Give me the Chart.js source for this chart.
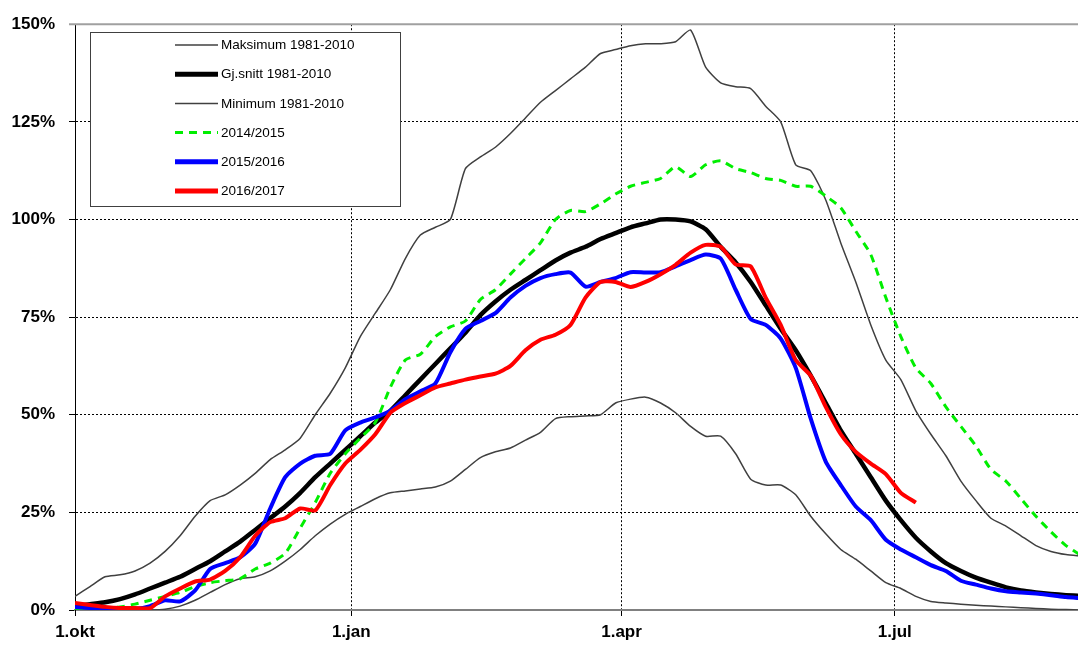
<!DOCTYPE html>
<html>
<head>
<meta charset="utf-8">
<script src="https://cdn.jsdelivr.net/npm/chart.js@4.4.0/dist/chart.umd.min.js"></script>
<style>
    body { margin: 0; background: #fff; }
    #wrap { width: 1078px; height: 648px; }
</style>
</head>
<body>
<div id="wrap"><canvas id="chart" width="1078" height="648"></canvas></div>
<script>
// days after 1. oktober, one point every 5 days
const days = [0, 5, 10, 15, 20, 25, 30, 35, 40, 45, 50, 55, 60, 65, 70, 75, 80, 85, 90, 95,
    100, 105, 110, 115, 120, 125, 130, 135, 140, 145, 150, 155, 160, 165, 170, 175, 180, 185, 190, 195,
    200, 205, 210, 215, 220, 225, 230, 235, 240, 245, 250, 255, 260, 265, 270, 275, 280, 285, 290, 295,
    300, 305, 310, 315, 320, 325, 330, 335];

const tickDays = [0, 92, 182, 273];
const tickLabels = ['1.okt', '1.jan', '1.apr', '1.jul'];
const yTicks = [0, 25, 50, 75, 100, 125, 150];

const maksimum = [3.5, 6, 8.5, 9, 10, 12, 15, 19, 24, 28, 29.5, 32, 35, 38.5, 41, 44, 50, 55.5, 62, 70,
    76, 82, 90, 96, 98, 100, 113, 116, 118.5, 122, 126, 130, 133, 136, 139, 142.5, 143.5, 144.5, 145, 145,
    145.5, 148.5, 139, 135, 134, 133.5, 129, 125, 114, 112.5, 105, 94, 84, 73, 64, 59, 51, 45, 39.5, 33,
    28, 23.5, 21.5, 19, 16.5, 15, 14.2, 13.8];

const snitt = [1, 1.5, 2, 2.8, 4, 5.5, 7, 8.5, 10.5, 12.5, 15, 17.5, 20.5, 23.5, 26.5, 30, 34, 37.5, 41, 44.5,
    48, 51, 55, 59, 63, 67, 71, 75.5, 79, 82, 84.5, 87, 89.5, 91.5, 93, 95, 96.5, 98, 99, 100,
    100, 99.5, 97.5, 93, 89, 84, 78, 72, 66.5, 60, 53, 46, 40, 34, 28, 23, 18.5, 15, 12, 10,
    8.3, 7, 5.8, 5, 4.5, 4.1, 3.8, 3.6];

const minimum = [0.3, 0.3, 0.2, 0, 0, 0, 0.2, 1, 2.5, 4.5, 6.5, 8, 8.5, 10, 12.5, 15.5, 19, 22, 24.5, 26.5,
    28.5, 30, 30.5, 31, 31.5, 33, 36, 39, 40.5, 41.5, 43.5, 45.5, 49, 49.5, 49.7, 50, 53, 54, 54.5, 53,
    50.5, 47, 44.5, 44.5, 40, 33.5, 32, 32, 29.5, 24, 19.5, 15.5, 13, 10, 7, 5.5, 3.5, 2.2, 1.8, 1.5,
    1.2, 1, 0.8, 0.6, 0.4, 0.2, 0.1, 0];

const s2014 = [0.3, 0.3, 0.5, 0.8, 1.5, 2.5, 3.5, 4.5, 6, 7, 7.5, 8, 10.5, 12, 14.5, 21, 27.5, 35, 40, 44,
    48, 57, 64, 65.5, 70, 72.5, 74, 79.5, 82, 86, 90, 94, 100, 102.3, 102, 104, 106.5, 108.5, 109.5, 110.5,
    113.5, 111, 114, 115, 113, 112, 110.5, 110, 108.5, 108.5, 106, 103, 97, 91, 80, 70, 62, 58, 52, 47,
    42, 36, 33, 28.5, 24, 20, 16.5, 14];

const s2015 = [0.8, 0.5, 0.3, 0.3, 0.3, 1, 2.5, 2.2, 5, 10.5, 12, 13.5, 17, 26, 34, 37.5, 39.5, 40, 46, 48,
    49.3, 51, 54, 56, 58, 66, 72, 74, 76, 80, 83, 85, 86, 86.4, 82.8, 84, 85, 86.5, 86.4, 86.5,
    88, 89.6, 91, 90, 82, 74.5, 73, 69.5, 62, 49, 38, 32, 26.5, 23, 18, 15.5, 13.5, 11.5, 10, 7.5,
    6.5, 5.5, 4.8, 4.5, 4.2, 3.8, 3.3, 3];

const s2016 = [1.8, 1.3, 0.8, 0.5, 0.5, 0.5, 3.5, 5.5, 7.3, 7.8, 10, 13.5, 19, 22.5, 23.5, 26, 25.5, 32, 37.5, 41,
    45, 50.5, 53, 55, 57, 58, 59, 59.8, 60.5, 62.5, 66.5, 69.2, 70.5, 73, 80, 84, 84, 82.7, 84, 86,
    88.4, 91.5, 93.5, 93, 88.5, 88, 80, 73, 64, 60, 52, 45, 40.5, 37.5, 34.8, 30, 27.5, null, null, null,
    null, null, null, null, null, null, null, null];

const font = "'Liberation Sans', Arial, sans-serif";

function points(vals) {
    return days.map((d, i) => ({x: d, y: vals[i]})).filter(p => p.y !== null);
}

function line(label, vals, color, width, order, dash) {
    return {
        label: label,
        data: points(vals),
        borderColor: color,
        backgroundColor: color,
        borderWidth: width,
        borderDash: dash || [],
        pointRadius: 0,
        tension: 0.2,
        fill: false,
        order: order
    };
}

// legend box inside the plot, like the original
const legendBox = {
    id: 'legendBox',
    afterDraw(chart) {
        const ctx = chart.ctx;
        ctx.save();
        ctx.fillStyle = '#fff';
        ctx.fillRect(90.5, 32.5, 310, 174);
        ctx.strokeStyle = '#404040';
        ctx.lineWidth = 1;
        ctx.strokeRect(90.5, 32.5, 310, 174);
        ctx.font = '13.5px ' + font;
        ctx.textBaseline = 'middle';
        chart.data.datasets.forEach((ds, i) => {
            const y = 45 + i * 29.2;
            ctx.beginPath();
            ctx.strokeStyle = ds.borderColor;
            ctx.lineWidth = ds.legendWidth;
            ctx.setLineDash(ds.borderDash);
            ctx.moveTo(175, y);
            ctx.lineTo(218, y);
            ctx.stroke();
            ctx.setLineDash([]);
            ctx.fillStyle = '#000';
            ctx.fillText(ds.label, 221, y + 0.5);
        });
        ctx.restore();
    },
    beforeDatasetsDraw(chart) {
        // grey frame line at 150%
        const ctx = chart.ctx;
        const a = chart.chartArea;
        ctx.save();
        ctx.strokeStyle = '#a0a0a0';
        ctx.lineWidth = 2;
        ctx.beginPath();
        ctx.moveTo(a.left - 6, a.top);
        ctx.lineTo(a.right, a.top);
        ctx.stroke();
        ctx.restore();
    }
};

const datasets = [
    line('Maksimum 1981-2010', maksimum, '#404040', 1.5, 5),
    line('Gj.snitt 1981-2010', snitt, '#000000', 4.5, 3),
    line('Minimum 1981-2010', minimum, '#404040', 1.5, 5),
    line('2014/2015', s2014, '#00ee00', 3, 2, [8, 6]),
    line('2015/2016', s2015, '#0000ff', 4, 1),
    line('2016/2017', s2016, '#ff0000', 4, 0)
];
[1.5, 5, 1.5, 3, 5, 5].forEach((w, i) => datasets[i].legendWidth = w);

new Chart(document.getElementById('chart'), {
    type: 'line',
    data: {datasets: datasets},
    plugins: [legendBox],
    options: {
        responsive: false,
        animation: false,
        layout: {padding: {top: 16, right: 0, left: 0, bottom: 0}},
        plugins: {
            legend: {display: false},
            tooltip: {enabled: false}
        },
        scales: {
            x: {
                type: 'linear',
                min: 0,
                max: 334,
                afterFit: scale => { scale.height = 38; },
                afterBuildTicks: scale => { scale.ticks = tickDays.map(v => ({value: v})); },
                ticks: {
                    autoSkip: false,
                    maxRotation: 0,
                    padding: 6,
                    color: '#000',
                    font: {family: font, size: 17, weight: 'bold'},
                    callback: v => tickLabels[tickDays.indexOf(v)]
                },
                grid: {
                    color: c => c.tick && c.tick.value === 0 ? 'rgba(0,0,0,0)' : '#000',
                    lineWidth: 1,
                    tickColor: '#000',
                    tickLength: 6,
                    tickBorderDash: []
                },
                border: {display: true, color: '#808080', width: 2, dash: [2, 2]}
            },
            y: {
                min: 0,
                max: 150,
                afterFit: scale => { scale.width = 75; },
                afterBuildTicks: scale => { scale.ticks = yTicks.map(v => ({value: v})); },
                ticks: {
                    padding: 14,
                    color: '#000',
                    font: {family: font, size: 17, weight: 'bold'},
                    callback: v => v + '%'
                },
                grid: {
                    color: c => c.tick && (c.tick.value === 0 || c.tick.value === 150) ? 'rgba(0,0,0,0)' : '#000',
                    lineWidth: 1,
                    tickColor: '#000',
                    tickLength: 6,
                    tickBorderDash: []
                },
                border: {display: true, color: '#000', width: 1, dash: [2, 2]}
            }
        }
    }
});
</script>
</body>
</html>
